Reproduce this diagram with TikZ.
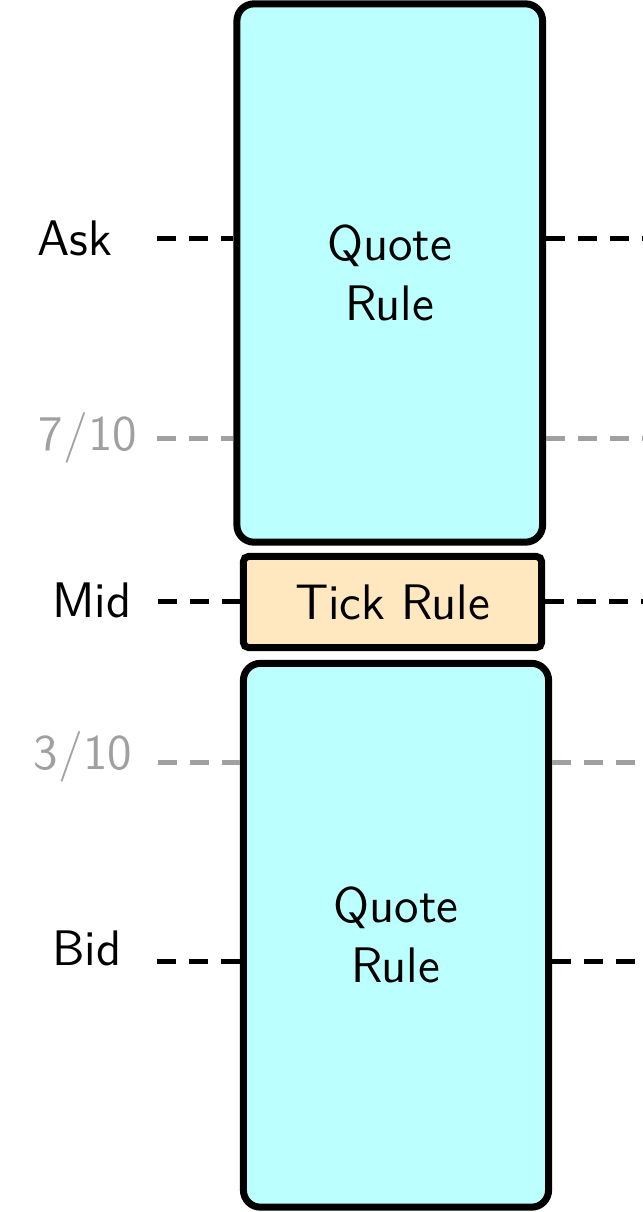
\documentclass[tikz,border=0pt]{standalone}
\definecolor{quotecol}{RGB}{188,255,255}
\definecolor{tickcol}{RGB}{255,232,192}
\definecolor{levelgray}{RGB}{160,160,160}
\tikzset{
  rulebox/.style={draw=black, line width=0.07cm, rounded corners=0.17cm, fill=quotecol, align=center, inner sep=0pt},
  tickbox/.style={draw=black, line width=0.07cm, rounded corners=0.05cm, fill=tickcol, inner sep=0pt},
  lvl/.style={line width=0.05cm, dash pattern=on 0.19cm off 0.13cm},
  lbl/.style={inner sep=0pt, anchor=center},
}
\begin{document}
\begin{tikzpicture}[x=0.01cm, y=-0.01cm, font=\fontsize{14.2}{17}\selectfont\sffamily]
\useasboundingbox (0,0) rectangle (643,1212);
% boxes
\node[rulebox, minimum width=3.055cm, minimum height=5.38cm] (top) at (389.75,273) {Quote\\Rule};
\node[tickbox, minimum width=2.98cm, minimum height=0.91cm] (tick) at (392.5,602) {Tick Rule};
\node[rulebox, minimum width=3.05cm, minimum height=5.435cm] (bot) at (396,935.25) {Quote\\Rule};
% labels
\node[lbl] (ask) at (75,238) {Ask};
\node[lbl, text=levelgray] (sev) at (88,438) {7$/$10};
\node[lbl] (mid) at (92,600) {Mid};
\node[lbl, text=levelgray] (thr) at (83,757) {3$/$10};
\node[lbl] (bid) at (87,948) {Bid};
% free ends
\coordinate (askL) at (157,238);  \coordinate (askR) at (643,238);
\coordinate (sevL) at (157,438);  \coordinate (sevR) at (643,438);
\coordinate (midL) at (158,601);  \coordinate (midR) at (643,601);
\coordinate (thrL) at (158,762);  \coordinate (thrR) at (643,762);
\coordinate (bidL) at (157,961);  \coordinate (bidR) at (643,961);
% level lines
\draw[lvl] (askL) -- (askL -| top.west);
\draw[lvl] (askL -| top.east) -- (askR);
\draw[lvl, draw=levelgray] (sevL) -- (sevL -| top.west);
\draw[lvl, draw=levelgray] (sevL -| top.east) -- (sevR);
\draw[lvl] (midL) -- (midL -| tick.west);
\draw[lvl] (midL -| tick.east) -- (midR);
\draw[lvl, draw=levelgray] (thrL) -- (thrL -| bot.west);
\draw[lvl, draw=levelgray] (thrL -| bot.east) -- (thrR);
\draw[lvl] (bidL) -- (bidL -| bot.west);
\draw[lvl] (bidL -| bot.east) -- (bidR);
\end{tikzpicture}
\end{document}
